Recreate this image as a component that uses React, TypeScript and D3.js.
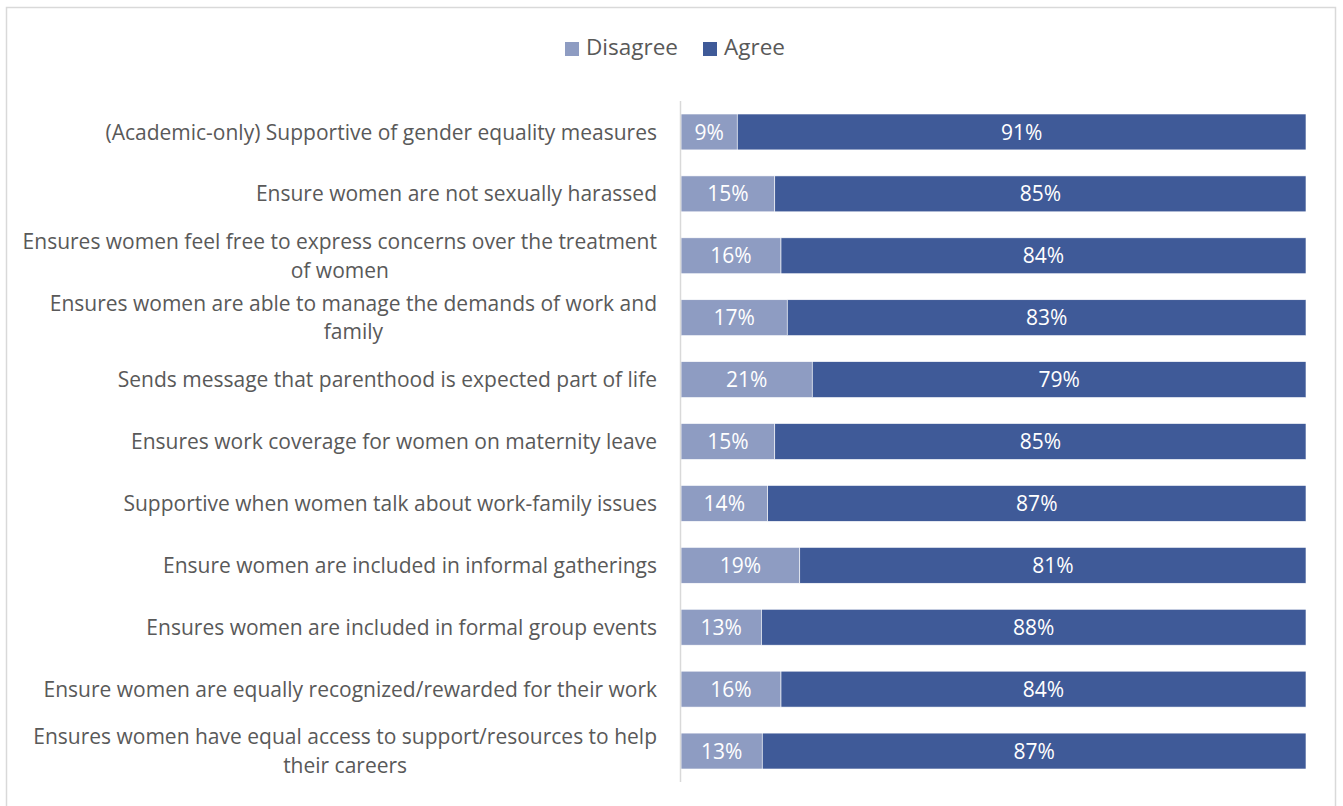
import React from "react";
import * as d3 from "d3";

const categories: string[][] = [
  ["(Academic-only) Supportive of gender equality measures"],
  ["Ensure women are not sexually harassed"],
  ["Ensures women feel free to express concerns over the treatment", "of women"],
  ["Ensures women are able to manage the demands of work and", "family"],
  ["Sends message that parenthood is expected part of life"],
  ["Ensures work coverage for women on maternity leave"],
  ["Supportive when women talk about work-family issues"],
  ["Ensure women are included in informal gatherings "],
  ["Ensures women are included in formal group events"],
  ["Ensure women are equally recognized/rewarded for their work"],
  ["Ensures women have equal access to support/resources to help", "their careers"],
];
const disagree = [9, 15, 16, 17, 21, 15, 14, 19, 13, 16, 13];
const agree = [91, 85, 84, 83, 79, 85, 87, 81, 88, 84, 87];
const seriesNames = ["Disagree", "Agree"];
const colors = ["#8E9CC2", "#3F5A98"];

const W = 1343;
const H = 806;
const FONT = "'Open Sans', sans-serif";
const LABEL_SIZE = 21;

let ctx: CanvasRenderingContext2D | null = null;
function measure(t: string, size: number) {
  if (typeof document === "undefined") return t.length * size * 0.5;
  if (!ctx) ctx = document.createElement("canvas").getContext("2d");
  if (!ctx) return t.length * size * 0.5;
  ctx.font = `${size}px 'Open Sans'`;
  return ctx.measureText(t).width;
}

export default function App() {
  const left = 681;
  const right = 1306;
  const top = 101;
  const bottom = 782;
  const idx = categories.map((_, i) => i);
  const y = d3.scaleBand<number>().domain(idx).range([top, bottom]).paddingInner(0.42).paddingOuter(0.21);
  const x = d3.scaleLinear().domain([0, 1]).range([left, right]);
  const lineH = 28.5;
  const labelRight = 657;

  return (
    <svg width={W} height={H} style={{ position: "absolute", left: 0, top: 0 }} fontFamily={FONT}>
      <rect x={0} y={0} width={W} height={H} fill="#fff" />
      <rect x={6.5} y={7.5} width={1329} height={810} fill="#fff" stroke="#D9D9D9" strokeWidth={1.5} />
      {/* legend */}
      <g>
        <rect x={565} y={42} width={14} height={14} fill={colors[0]} />
        <text x={586} y={55} fontSize={22.5} fill="#595959">{seriesNames[0]}</text>
        <rect x={703} y={42} width={14} height={14} fill={colors[1]} />
        <text x={724} y={55} fontSize={22.5} fill="#595959">{seriesNames[1]}</text>
      </g>
      {/* bars */}
      {idx.map((i) => {
        const tot = disagree[i] + agree[i];
        const d0 = disagree[i] / tot;
        const by = y(i)!;
        const bh = y.bandwidth();
        const cy = by + bh / 2;
        const lines = categories[i];
        const multi = lines.length > 1;
        const cx = labelRight - measure(lines[0], LABEL_SIZE) / 2;
        return (
          <g key={i}>
            <rect x={x(0)} y={by} width={x(d0) - x(0)} height={bh} fill={colors[0]} stroke="#fff" strokeWidth={0.6} />
            <rect x={x(d0)} y={by} width={x(1) - x(d0)} height={bh} fill={colors[1]} stroke="#fff" strokeWidth={0.6} />
            <text x={(x(0) + x(d0)) / 2} y={cy} dy="0.36em" textAnchor="middle" fontSize={21} fill="#fff">{disagree[i]}%</text>
            <text x={(x(d0) + x(1)) / 2} y={cy} dy="0.36em" textAnchor="middle" fontSize={21} fill="#fff">{agree[i]}%</text>
            <text y={cy - ((lines.length - 1) * lineH) / 2} textAnchor={multi ? "middle" : "end"} fontSize={LABEL_SIZE} fill="#595959">
              {lines.map((l, k) => (
                <tspan key={k} x={multi ? cx : labelRight} dy={k === 0 ? "0.36em" : lineH}>{l}</tspan>
              ))}
            </text>
          </g>
        );
      })}
      <line x1={680.5} x2={680.5} y1={top} y2={bottom} stroke="#D9D9D9" strokeWidth={1.5} />
    </svg>
  );
}
